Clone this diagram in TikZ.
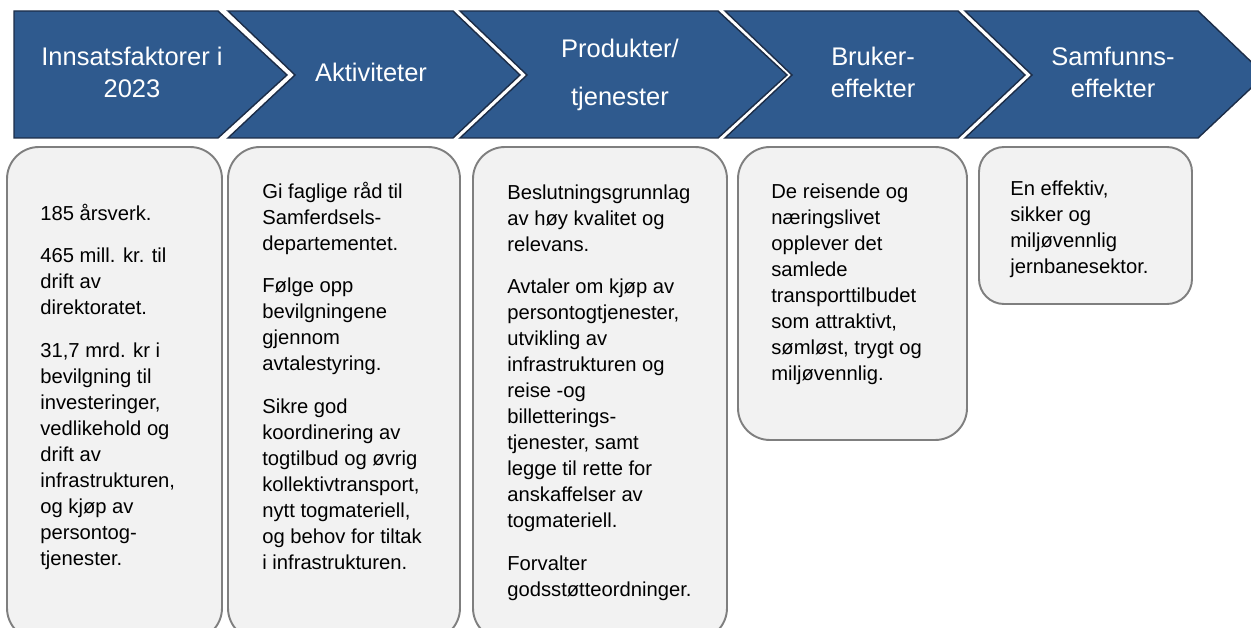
\documentclass[tikz,border=0pt]{standalone}
\usepackage{fontspec}
\setmainfont{Liberation Sans}

\definecolor{chevblue}{HTML}{2F5A8E}
\definecolor{chevline}{HTML}{1C2D48}
\definecolor{boxfill}{HTML}{F2F2F2}
\definecolor{boxline}{HTML}{7F7F7F}

\tikzset{
  chevron/.style={fill=chevblue, draw=chevline, line width=0.8pt, line join=miter},
  headtext/.style={text=white, align=center, inner sep=0pt,
    font=\fontsize{14.5}{18.2}\selectfont},
  infobox/.style={fill=boxfill, draw=boxline, line width=1.1pt, rounded corners=0.64cm},
  boxtext/.style={anchor=north west, align=left, inner sep=0pt,
    font=\fontsize{11.5}{14.8}\selectfont},
}

\begin{document}
\begin{tikzpicture}[x=0.02cm, y=-0.02cm]
\useasboundingbox (0,0) rectangle (1251,628);
\clip (0,0) rectangle (1251,628);

% chevrons along the top
\draw[chevron] (14,11)--(218,11)--(287,75)--(218,138)--(14,138)--cycle;
\draw[chevron] (228,11)--(453,11)--(520,75)--(453,138)--(228,138)--(295,75)--cycle;
\draw[chevron] (460,11)--(718,11)--(787,75)--(718,138)--(460,138)--(527,75)--cycle;
\draw[chevron] (725,11)--(958,11)--(1025,75)--(958,138)--(725,138)--(792,75)--cycle;
\draw[chevron] (965,11)--(1198,11)--(1265,75)--(1198,138)--(965,138)--(1032,75)--cycle;

\node[headtext] (inn)  at (132,72)  {Innsatsfaktorer i\\2023};
\node[headtext] (akt)  at (371,72)  {Aktiviteter};
\node[headtext] (prod) at (620,75)  {Produkter/\\[9.5pt]tjenester};
\node[headtext] (bruk) at (873,72)  {Bruker-\\effekter};
\node[headtext] (samf) at (1113,72) {Samfunns-\\effekter};

% boxes below
\draw[infobox] (7,147) rectangle (222,640);
\draw[infobox] (228,147) rectangle (460,640);
\draw[infobox] (473,147) rectangle (727,640);
\draw[infobox] (738,147) rectangle (967,440);
\draw[infobox, rounded corners=0.5cm] (979,147) rectangle (1192,304);

\node[boxtext] (inntxt) at (40,201.7) {\strut 185 årsverk.\\[9.5pt]
465 mill. kr. til\\drift av\\direktoratet.\\[9.5pt]
31,7 mrd. kr i\\bevilgning til\\investeringer,\\vedlikehold og\\drift av\\
infrastrukturen,\\og kjøp av\\persontog-\\tjenester.};

\node[boxtext] (akttxt) at (262,179.7) {\strut Gi faglige råd til\\Samferdsels-\\departementet.\\[9.5pt]
Følge opp\\bevilgningene\\gjennom\\avtalestyring.\\[9.5pt]
Sikre god\\koordinering av\\togtilbud og øvrig\\kollektivtransport,\\
nytt togmateriell,\\og behov for tiltak\\i infrastrukturen.};

\node[boxtext] (prodtxt) at (507,180.7) {\strut Beslutningsgrunnlag\\av høy kvalitet og\\relevans.\\[9.5pt]
Avtaler om kjøp av\\persontogtjenester,\\utvikling av\\infrastrukturen og\\
reise -og\\billetterings-\\tjenester, samt\\legge til rette for\\
anskaffelser av\\togmateriell.\\[9.5pt]
Forvalter\\godsstøtteordninger.};

\node[boxtext] (bruktxt) at (771,179.7) {\strut De reisende og\\næringslivet\\opplever det\\samlede\\
transporttilbudet\\som attraktivt,\\sømløst, trygt og\\miljøvennlig.};

\node[boxtext] (samftxt) at (1010,176.7) {\strut En effektiv,\\sikker og\\miljøvennlig\\jernbanesektor.};

\end{tikzpicture}
\end{document}
